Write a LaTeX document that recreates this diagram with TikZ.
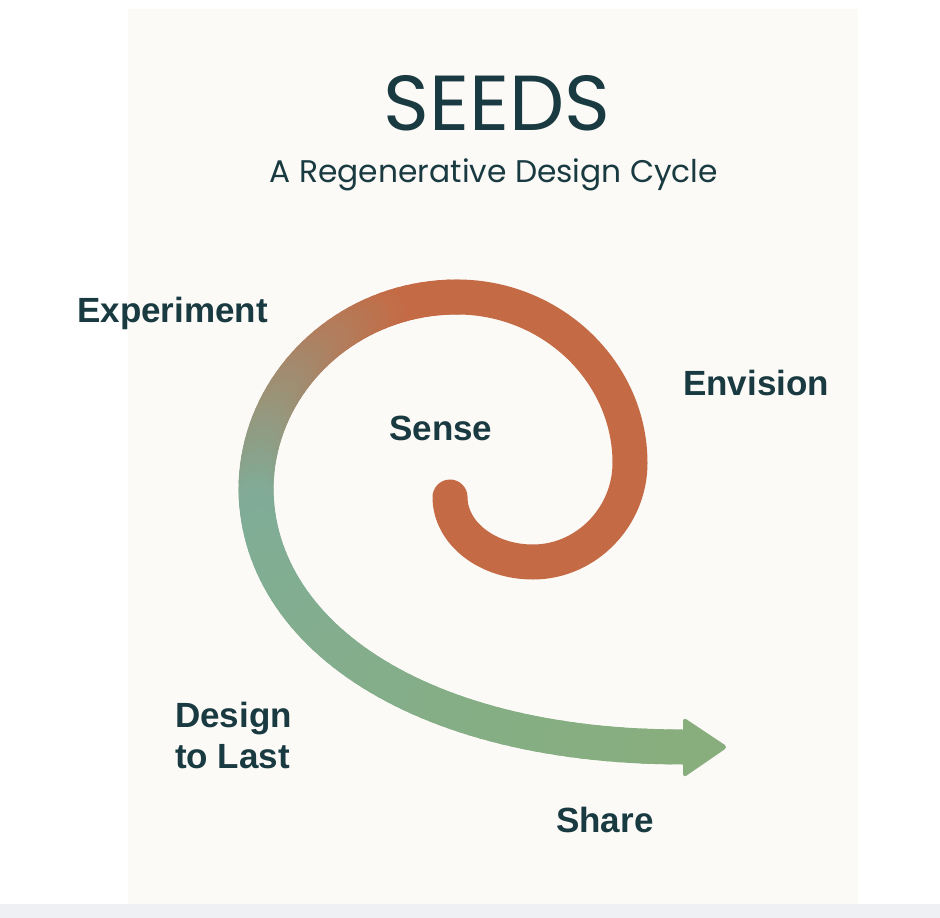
\documentclass[tikz,border=0pt]{standalone}
\usepackage{fontspec}
\newfontfamily\titlefont{Poppins}
\newfontfamily\labelfont{Liberation Sans}
\definecolor{ink}{HTML}{183A40}
\definecolor{panel}{HTML}{FCFAF7}
\definecolor{strip}{HTML}{EFF0F3}
\definecolor{sorange}{HTML}{C46B46}
\definecolor{steal}{HTML}{7FAD98}
\definecolor{sgreen}{HTML}{88AE7E}
% cubic Bezier coordinate: #1 = t, #2..#5 = control values
\def\bz#1#2#3#4#5{\pgfmathparse{(1-#1)*(1-#1)*(1-#1)*#2+3*(1-#1)*(1-#1)*#1*#3+3*(1-#1)*#1*#1*#4+#1*#1*#1*#5}}
\begin{document}
\begin{tikzpicture}[x=1pt,y=-1pt,
  band/.style={line width=35pt, line cap=round, line join=round},
  lbl/.style={text=ink, inner sep=0pt, font=\labelfont\bfseries\fontsize{35}{41}\selectfont},
  ttl/.style={text=ink, inner sep=0pt}]
\useasboundingbox (0,0) rectangle (940,918);
\fill[white] (0,0) rectangle (940,918);
\fill[panel] (128,9) rectangle (858,904);
\fill[strip] (0,904) rectangle (940,918);

% titles
\node[ttl, anchor=base, font=\titlefont\fontsize{78}{80}\selectfont] (title) at (497,130) {SEEDS};
\node[ttl, anchor=base, font=\titlefont\fontsize{31.3}{36}\selectfont] (subtitle) at (494,182) {A Regenerative Design Cycle};

% spiral: solid orange part
\draw[band, sorange] (450,497) .. controls (450,533) and (487,562) .. (533,562)
  .. controls (586,562) and (630,517) .. (630,463)
  .. controls (630,372) and (552,297) .. (457,297);

% gradient part 1: top-left quarter (orange -> teal)
\foreach \i in {1,...,40}{
  \pgfmathsetmacro\tA{(\i-1)/40}
  \pgfmathsetmacro\tB{\i/40}
  \pgfmathsetmacro\tM{(\i-0.5)/40}
  \bz{\tA}{457}{346}{256}{256}\let\xA\pgfmathresult
  \bz{\tA}{297}{297}{384}{490}\let\yA\pgfmathresult
  \bz{\tB}{457}{346}{256}{256}\let\xB\pgfmathresult
  \bz{\tB}{297}{297}{384}{490}\let\yB\pgfmathresult
  \pgfmathtruncatemacro\pc{max(0,min(100,100*(\tM-0.22)/0.85))}
  \draw[band, draw=steal!\pc!sorange] (\xA,\yA) -- (\xB,\yB);
}
% gradient part 2: sweep to arrow (teal -> green)
\foreach \i in {1,...,60}{
  \pgfmathsetmacro\tA{(\i-1)/60}
  \pgfmathsetmacro\tB{\i/60}
  \pgfmathsetmacro\tM{(\i-0.5)/60}
  \bz{\tA}{256}{258}{420}{683}\let\xA\pgfmathresult
  \bz{\tA}{490}{635}{747}{747}\let\yA\pgfmathresult
  \bz{\tB}{256}{258}{420}{683}\let\xB\pgfmathresult
  \bz{\tB}{490}{635}{747}{747}\let\yB\pgfmathresult
  \pgfmathsetmacro\fA{max(0,min(100,100*(0.08-\tM)/0.08))}
  \pgfmathtruncatemacro\pc{100*\tM}
  \ifdim\tM pt<0.08pt
    \pgfmathtruncatemacro\pc{94+6*\tM/0.08}
    \draw[band, draw=steal!\pc!sorange] (\xA,\yA) -- (\xB,\yB);
  \else
    \draw[band, draw=sgreen!\pc!steal] (\xA,\yA) -- (\xB,\yB);
  \fi
}
% arrow head
\coordinate (h1) at (683,717);
\coordinate (h2) at (728,747);
\coordinate (h3) at (683,778);
\fill[sgreen, rounded corners=4pt] (h1) -- (h2) -- (h3) -- cycle;

% labels
\node[lbl, anchor=base west] (experiment) at (77,322) {Experiment};
\node[lbl, anchor=base west] (envision) at (683,395) {Envision};
\node[lbl, anchor=base west] (sense) at (389,440) {Sense};
\node[lbl, anchor=north west, align=left] (design) at (175,702) {Design\\to Last};
\node[lbl, anchor=base west] (share) at (556,832) {Share};
\end{tikzpicture}
\end{document}
